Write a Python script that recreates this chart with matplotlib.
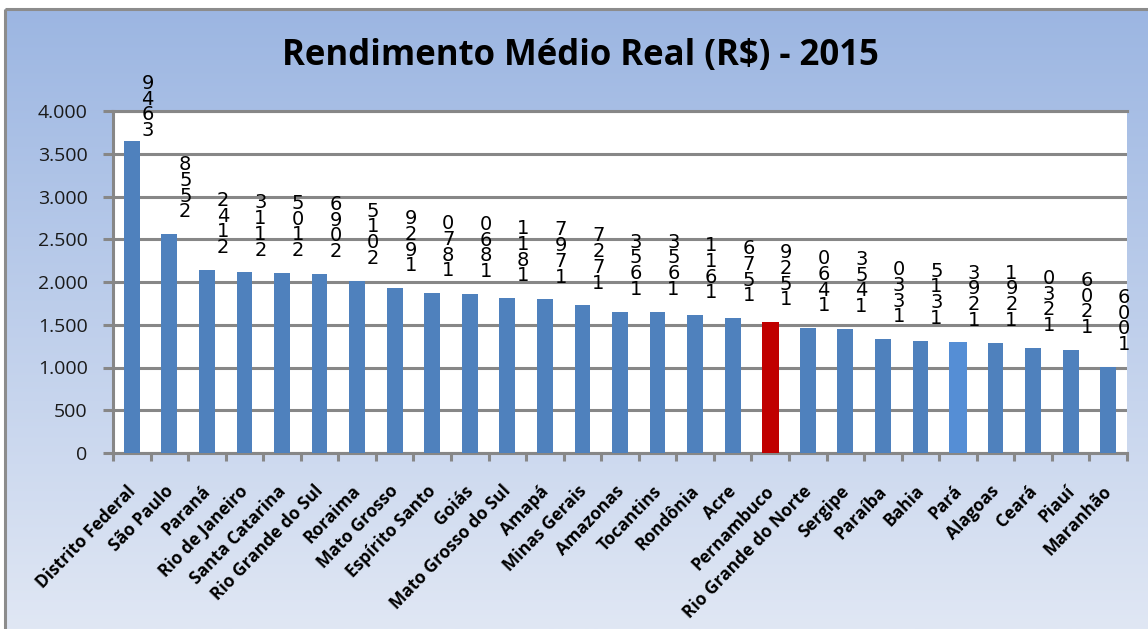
import numpy as np
import matplotlib
matplotlib.use('Agg')
import matplotlib.pyplot as plt
from matplotlib.ticker import FixedLocator, FuncFormatter
import matplotlib.transforms as mtransforms

# ---------------- data ----------------
estados = ['Distrito Federal', 'São Paulo', 'Paraná', 'Rio de Janeiro', 'Santa Catarina',
           'Rio Grande do Sul', 'Roraima', 'Mato Grosso', 'Espírito Santo', 'Goiás',
           'Mato Grosso do Sul', 'Amapá', 'Minas Gerais', 'Amazonas', 'Tocantins',
           'Rondônia', 'Acre', 'Pernambuco', 'Rio Grande do Norte', 'Sergipe',
           'Paraíba', 'Bahia', 'Pará', 'Alagoas', 'Ceará', 'Piauí', 'Maranhão']
rendimento = [3649, 2558, 2142, 2113, 2105, 2096, 2015, 1929, 1870, 1860,
              1811, 1797, 1727, 1653, 1653, 1611, 1576, 1529, 1460, 1453,
              1330, 1315, 1293, 1291, 1230, 1206, 1006]
y_ticks = [0, 500, 1000, 1500, 2000, 2500, 3000, 3500, 4000]
titulo = 'Rendimento Médio Real (R$) - 2015'

cor_base = '#4F81BD'
cores_destaque = {'Pernambuco': '#C00000', 'Pará': '#558ED5'}

# ---------------- figure ----------------
W, H, DPI = 1148, 629, 100
fig = plt.figure(figsize=(W / DPI, H / DPI), dpi=DPI)
fig.patch.set_facecolor('white')

# background gradient panel
bg = fig.add_axes([0, 0, 1, 1], zorder=0)
top_c = np.array([0x9C, 0xB6, 0xE2]) / 255
bot_c = np.array([0xE0, 0xE7, 0xF4]) / 255
t = np.linspace(0, 1, 256)[:, None]
grad = (top_c[None, :] * (1 - t) + bot_c[None, :] * t)[:, None, :]
panel_left = 5 / W
panel_top = 1 - 9 / H
bg.imshow(grad, aspect='auto', extent=[panel_left, 1, 0, panel_top])
bg.plot([panel_left, panel_left], [0, panel_top], color='#8C8C8C', lw=2.2, solid_capstyle='butt')
bg.plot([panel_left, 1], [panel_top, panel_top], color='#8C8C8C', lw=2.2, solid_capstyle='butt')
bg.set_xlim(0, 1)
bg.set_ylim(0, 1)
bg.axis('off')

# plot area
left, right = 113 / W, 1127 / W
bottom, top = 1 - 453 / H, 1 - 111 / H
ax = fig.add_axes([left, bottom, right - left, top - bottom], zorder=1)
ax.set_facecolor('white')

n = len(estados)
x = np.arange(n)
cores = [cores_destaque.get(e, cor_base) for e in estados]
larguras = [0.46 if e in cores_destaque else 0.42 for e in estados]
ax.bar(x, rendimento, width=larguras, color=cores, zorder=3)

ax.set_xlim(-0.5, n - 0.5)
ax.set_ylim(0, 4000)

grid_c = '#878787'
ax.yaxis.set_major_locator(FixedLocator(y_ticks))
ax.yaxis.set_major_formatter(FuncFormatter(lambda v, p: f'{int(v):,}'.replace(',', '.')))
ax.grid(axis='y', color=grid_c, lw=2.2, zorder=1)
ax.set_axisbelow(True)
for s in ['left', 'bottom', 'top']:
    ax.spines[s].set_color(grid_c)
    ax.spines[s].set_linewidth(2.2)
ax.spines['right'].set_visible(False)

ax.tick_params(axis='y', length=7.2, width=2.2, color=grid_c, pad=11,
               labelsize=14, labelcolor='#1a1a1a')
for lab in ax.get_yticklabels():
    lab.set_family('Open Sans')

# x ticks: marks at category boundaries, labels at centers
ax.set_xticks(x)
ax.set_xticklabels(estados, rotation=46, ha='right', va='center',
                   rotation_mode='anchor', fontsize=12.5, fontweight='bold',
                   family='Open Sans', color='black')
ax.tick_params(axis='x', which='major', length=0, pad=25.5)
ax.set_xticks(np.arange(-0.5, n, 1), minor=True)
ax.tick_params(axis='x', which='minor', length=6, width=2.2, color=grid_c)
off = mtransforms.ScaledTranslation(1 / DPI, 0, fig.dpi_scale_trans)
for lab in ax.get_xticklabels():
    lab.set_transform(lab.get_transform() + off)

# stacked data labels (characters reversed, one per line)
cap = 3660
for xi, v in zip(x, rendimento):
    s = f'{v:,}'.replace(',', '.').replace('.', '')[::-1]
    txt = '\n'.join(s)
    base = min(v + 150, cap)
    ax.annotate(txt, xy=(xi, base), xytext=(11.5, 0), textcoords='offset points',
                ha='center', va='bottom', fontsize=14, linespacing=0.78,
                family='DejaVu Sans', color='black', annotation_clip=False, zorder=5)

fig.text(580 / W, 1 - 56 / H, titulo, ha='center', va='center',
         fontsize=25, fontweight='bold', family='Open Sans', color='black')

fig.savefig('out.png', dpi=DPI)
